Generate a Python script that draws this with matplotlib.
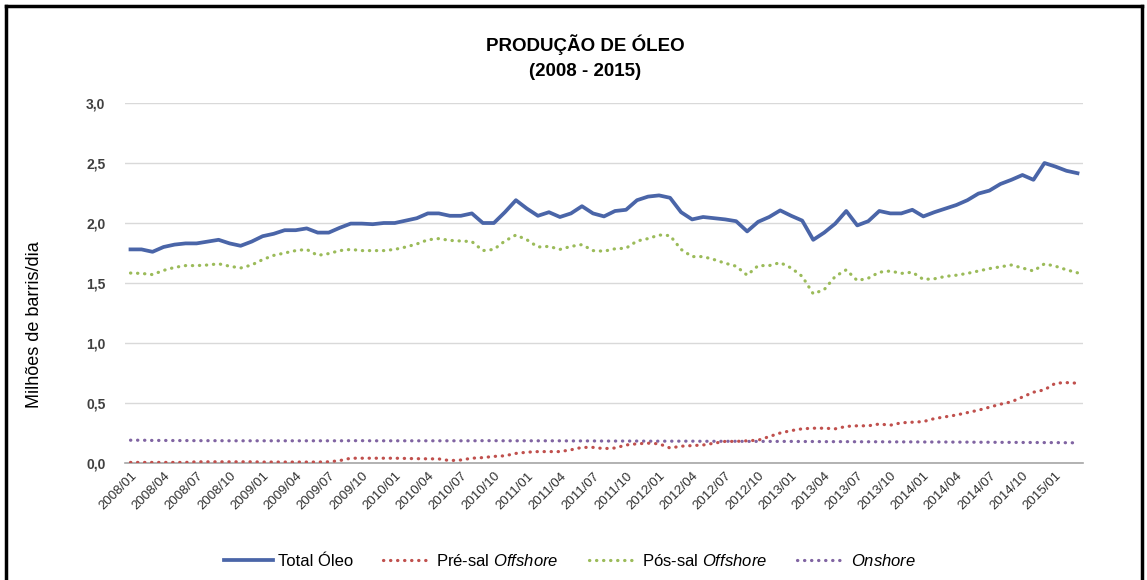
import numpy as np
import matplotlib
matplotlib.use('Agg')
import matplotlib.pyplot as plt
from matplotlib.lines import Line2D

plt.rcParams['font.family'] = ['Liberation Sans', 'DejaVu Sans']
plt.rcParams['mathtext.fontset'] = 'custom'
plt.rcParams['mathtext.rm'] = 'Liberation Sans'
plt.rcParams['mathtext.it'] = 'Liberation Sans:italic'

# months 2008/01 .. 2015/03
months = [f'{y}/{m:02d}' for y in range(2008, 2016) for m in range(1, 13)][:87]

total = [1.78, 1.78, 1.76, 1.80, 1.82, 1.83, 1.83, 1.845, 1.86, 1.83,
         1.81, 1.845, 1.89, 1.91, 1.94, 1.94, 1.955, 1.92, 1.92, 1.96,
         1.995, 1.995, 1.99, 2.00, 2.00, 2.02, 2.04, 2.08, 2.08, 2.06,
         2.06, 2.08, 2.00, 2.00, 2.09, 2.19, 2.12, 2.06, 2.09, 2.05,
         2.08, 2.14, 2.08, 2.055, 2.10, 2.11, 2.19, 2.22, 2.23, 2.21,
         2.09, 2.03, 2.05, 2.04, 2.03, 2.015, 1.93, 2.01, 2.05, 2.105,
         2.06, 2.02, 1.86, 1.92, 1.995, 2.10, 1.98, 2.015, 2.10, 2.08,
         2.08, 2.11, 2.055, 2.09, 2.12, 2.15, 2.19, 2.245, 2.27, 2.325,
         2.36, 2.40, 2.36, 2.50, 2.47, 2.435, 2.415]

pre_sal = [0.005, 0.005, 0.005, 0.005, 0.005, 0.005, 0.01, 0.01, 0.01, 0.01,
           0.01, 0.01, 0.008, 0.008, 0.008, 0.008, 0.008, 0.008, 0.01, 0.02,
           0.04, 0.04, 0.04, 0.04, 0.04, 0.038, 0.036, 0.035, 0.034, 0.02,
           0.025, 0.04, 0.045, 0.055, 0.06, 0.08, 0.09, 0.095, 0.095, 0.095,
           0.11, 0.13, 0.13, 0.12, 0.125, 0.15, 0.16, 0.165, 0.16, 0.125,
           0.14, 0.145, 0.15, 0.165, 0.18, 0.18, 0.185, 0.19, 0.22, 0.25,
           0.27, 0.285, 0.29, 0.29, 0.285, 0.305, 0.31, 0.31, 0.325, 0.315,
           0.335, 0.34, 0.345, 0.37, 0.385, 0.40, 0.42, 0.44, 0.465, 0.49,
           0.51, 0.55, 0.59, 0.61, 0.665, 0.67, 0.665]

pos_sal = [1.583, 1.58, 1.57, 1.605, 1.63, 1.645, 1.645, 1.65, 1.66, 1.64,
           1.625, 1.65, 1.695, 1.73, 1.75, 1.77, 1.78, 1.73, 1.745, 1.77,
           1.78, 1.77, 1.77, 1.77, 1.78, 1.80, 1.825, 1.86, 1.87, 1.855,
           1.85, 1.845, 1.77, 1.78, 1.85, 1.90, 1.86, 1.80, 1.805, 1.78,
           1.805, 1.82, 1.77, 1.765, 1.785, 1.79, 1.85, 1.87, 1.90, 1.895,
           1.78, 1.72, 1.72, 1.695, 1.665, 1.64, 1.565, 1.645, 1.645, 1.67,
           1.625, 1.555, 1.41, 1.445, 1.555, 1.61, 1.52, 1.54, 1.59, 1.60,
           1.58, 1.59, 1.53, 1.535, 1.555, 1.565, 1.58, 1.60, 1.62, 1.635,
           1.65, 1.625, 1.60, 1.66, 1.64, 1.61, 1.585]

onshore = [0.19, 0.19, 0.188, 0.188, 0.187, 0.187, 0.186, 0.186, 0.186, 0.185,
           0.185, 0.185, 0.185, 0.185, 0.185, 0.185, 0.185, 0.185, 0.185, 0.185,
           0.186, 0.186, 0.185, 0.185, 0.185, 0.185, 0.185, 0.185, 0.185, 0.185,
           0.185, 0.185, 0.186, 0.186, 0.185, 0.185, 0.185, 0.185, 0.185, 0.185,
           0.184, 0.184, 0.184, 0.183, 0.183, 0.183, 0.183, 0.182, 0.182, 0.182,
           0.182, 0.182, 0.181, 0.181, 0.181, 0.181, 0.18, 0.18, 0.18, 0.18,
           0.18, 0.179, 0.179, 0.178, 0.178, 0.178, 0.177, 0.177, 0.177, 0.176,
           0.176, 0.176, 0.175, 0.175, 0.175, 0.174, 0.174, 0.173, 0.173, 0.172,
           0.172, 0.171, 0.171, 0.17, 0.17, 0.169, 0.168]

x = np.arange(len(months))

fig = plt.figure(figsize=(11.47, 5.8), dpi=100)
ax = fig.add_axes([125 / 1147, 1 - 463 / 580, (1083 - 125) / 1147, (463 - 103) / 580])

dot = (0, (0.1, 2.1))
ax.plot(x, total, color='#4A65A8', lw=2.7, solid_joinstyle='round', zorder=5, label='Total Óleo')
ax.plot(x, pre_sal, color='#C0504D', lw=2.3, ls=dot, dash_capstyle='round', zorder=4,
        label='Pré-sal $\\mathit{Offshore}$')
ax.plot(x, pos_sal, color='#9BBB59', lw=2.3, ls=dot, dash_capstyle='round', zorder=4,
        label='Pós-sal $\\mathit{Offshore}$')
ax.plot(x, onshore, color='#8064A2', lw=2.3, ls=dot, dash_capstyle='round', zorder=3,
        label='$\\mathit{Onshore}$')

ax.set_xlim(-0.5, len(months) - 0.5)
ax.set_ylim(0, 3.0)
ax.set_yticks(np.arange(0, 3.01, 0.5))
ax.set_yticklabels([f'{v:.1f}'.replace('.', ',') for v in np.arange(0, 3.01, 0.5)],
                   fontsize=10, fontweight='bold', color='#404040')
ax.grid(axis='y', color='#D9D9D9', lw=1)
ax.set_axisbelow(True)

ax.set_xticks(x[::3])
ax.set_xticklabels(months[::3], rotation=45, ha='right', va='top', rotation_mode='anchor',
                   fontsize=9.5, color='#303030')
ax.tick_params(length=0, pad=5)
ax.tick_params(axis='y', pad=14)

for s in ['top', 'right', 'left']:
    ax.spines[s].set_visible(False)
ax.spines['bottom'].set_color('#A6A6A6')
ax.spines['bottom'].set_linewidth(1.2)

fig.text(35 / 1147, 1 - 325 / 580, 'Milhões de barris/dia', rotation=90,
         ha='center', va='center', fontsize=13)

fig.text(0.51, 1 - 45 / 580, 'PRODUÇÃO DE ÓLEO', ha='center', va='center',
         fontsize=13.5, fontweight='bold')
fig.text(0.51, 1 - 71 / 580, '(2008 - 2015)', ha='center', va='center',
         fontsize=13.5, fontweight='bold')

fig.legend(loc='center', bbox_to_anchor=(0.497, 1 - 561 / 580), ncol=4, frameon=False,
           fontsize=12, handlelength=2.9, columnspacing=1.8, handletextpad=0.3)

# frame around the chart
for xs, ys in [([0.005, 0.005], [0, 0.99]), ([0.005, 0.996], [0.99, 0.99]),
               ([0.996, 0.996], [0, 0.99])]:
    fig.add_artist(Line2D(xs, ys, color='black', lw=2.5, transform=fig.transFigure))

fig.savefig('out.png', dpi=100)
